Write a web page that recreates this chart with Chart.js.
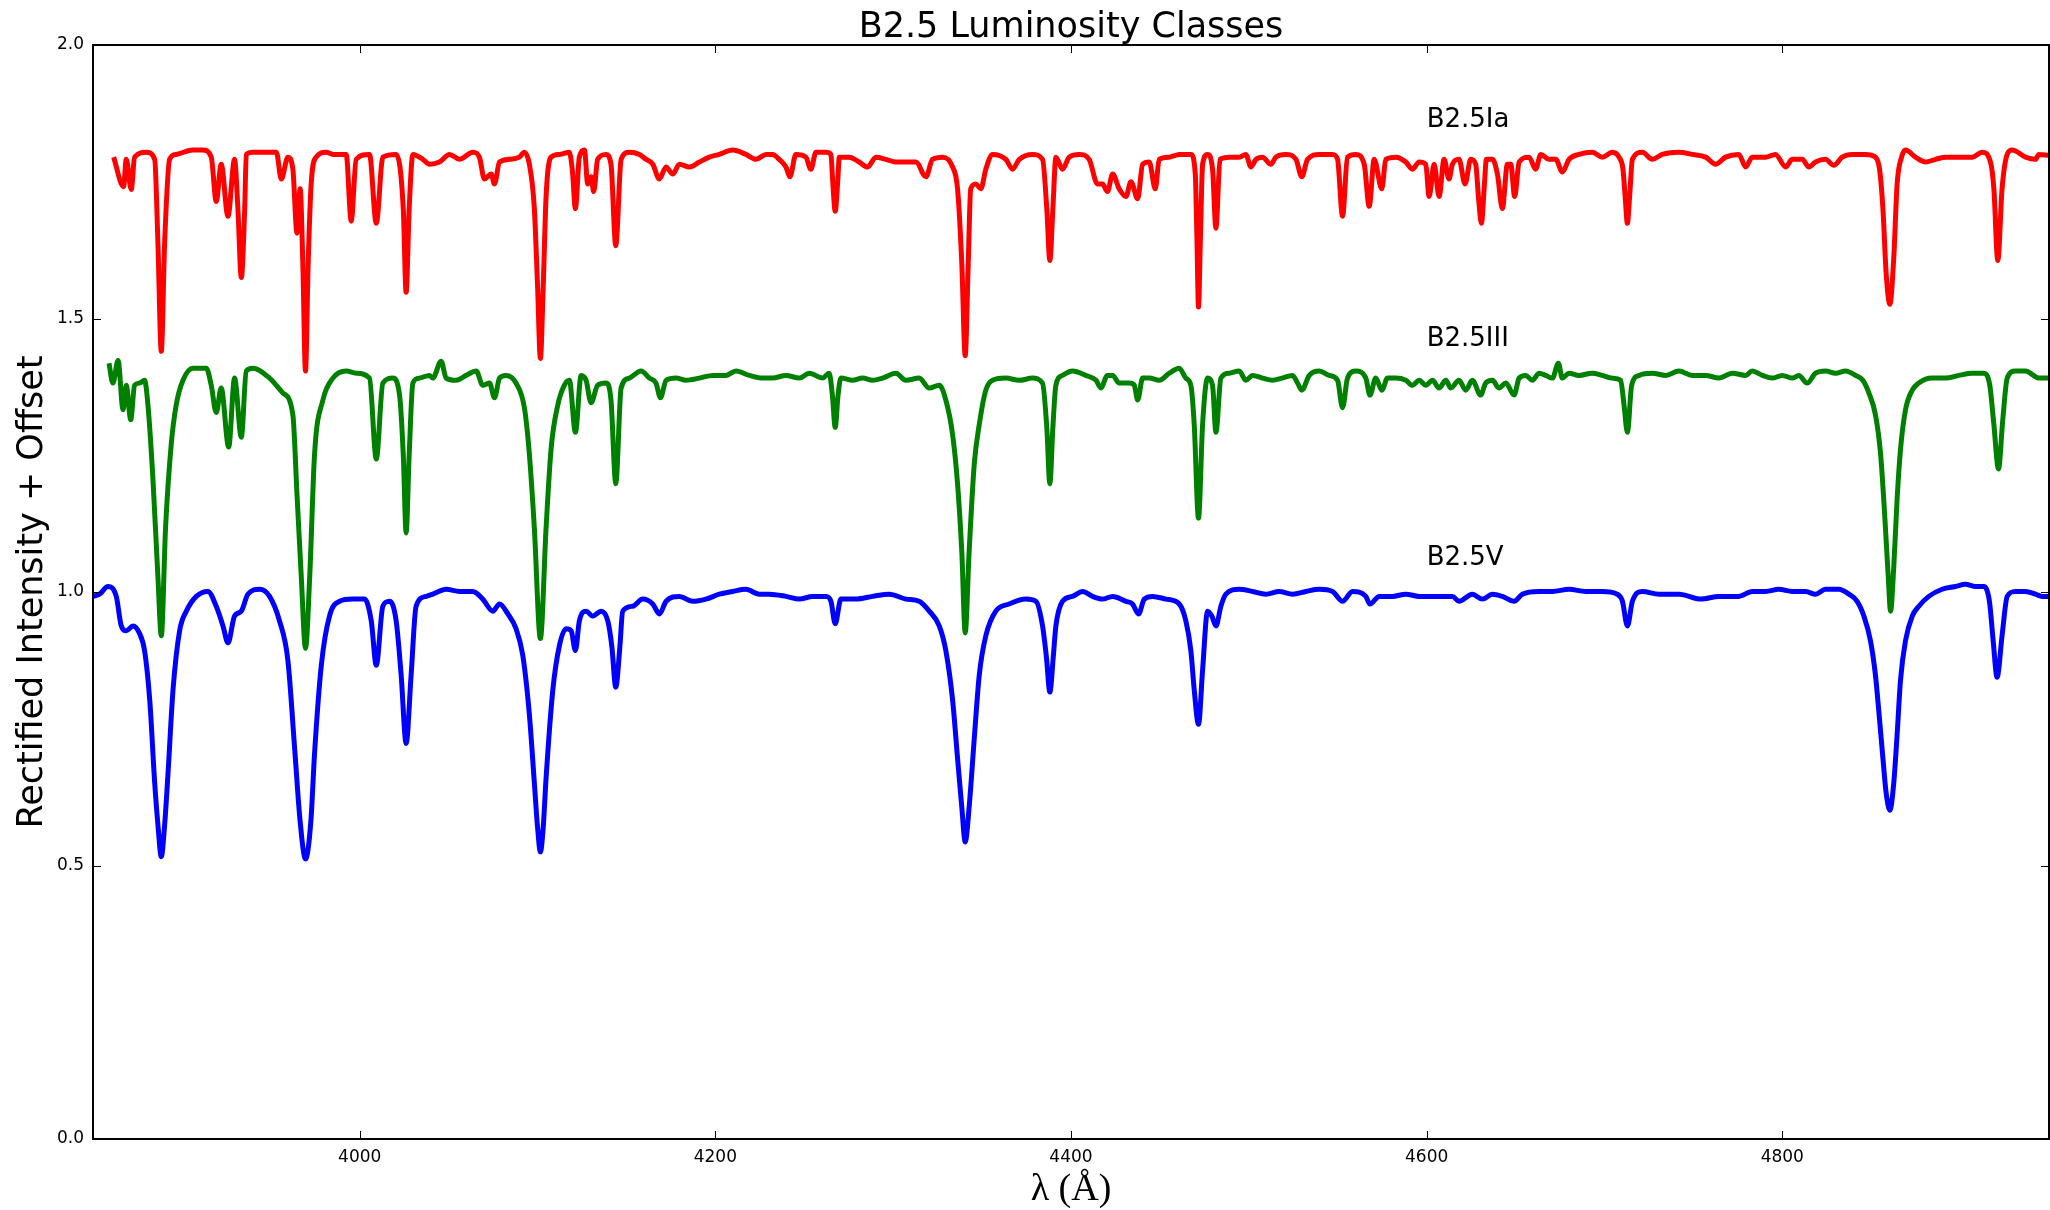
<!DOCTYPE html>
<html lang="en">
<head>
    <meta charset="UTF-8">
    <title>B2.5 Luminosity Classes</title>
    <script src="https://cdn.jsdelivr.net/npm/chart.js"></script>
    <style>
        html, body { margin: 0; padding: 0; background: #fff; }
        .chart-box { width: 2050px; height: 1210px; position: relative; }
    </style>
</head>
<body>
<div class="chart-box"><canvas id="spectra"></canvas></div>
<script>
    // wavelengths (Angstrom) and rectified flux + offset for each luminosity class
    const iaWave = [
        3861.6, 3867.2, 3868.7, 3871.5, 3873.4, 3880.0, 3884.7, 3886.5, 3888.4, 3890.3,
        3893.1, 3896.8, 3906.2, 3911.8, 3916.5, 3919.3, 3922.1, 3925.9, 3929.6, 3931.5,
        3933.4, 3935.3, 3936.2, 3939.9, 3953.1, 3955.9, 3959.6, 3962.4, 3964.7, 3966.5,
        3968.0, 3969.5, 3971.0, 3972.7, 3975.5, 3981.2, 3984.9, 3992.4, 3995.2, 3998.0,
        4005.5, 4009.3, 4013.0, 4020.5, 4024.5, 4026.1, 4027.8, 4029.9, 4035.5, 4039.2,
        4044.8, 4050.5, 4056.1, 4063.6, 4067.3, 4070.1, 4073.9, 4075.8, 4078.6, 4084.2,
        4089.8, 4092.6, 4095.4, 4098.2, 4100.0, 4101.6, 4103.2, 4104.8, 4107.6, 4112.3,
        4117.9, 4119.6, 4121.3, 4123.5, 4126.4, 4128.2, 4130.1, 4131.6, 4133.8, 4138.5,
        4141.3, 4144.0, 4147.0, 4151.6, 4157.3, 4161.0, 4164.8, 4168.5, 4172.3, 4176.0,
        4179.8, 4185.4, 4191.0, 4196.6, 4202.2, 4209.7, 4217.2, 4222.8, 4228.5,
        4232.2, 4235.9, 4239.7, 4241.9, 4245.3, 4250.9, 4253.7, 4256.6, 4262.2, 4265.0,
        4266.0, 4267.4, 4268.8, 4269.7, 4275.3, 4280.9, 4285.6, 4290.3, 4295.9, 4301.5,
        4307.1, 4312.8, 4318.4, 4322.1, 4327.8, 4333.4, 4336.2, 4338.6, 4340.5, 4342.2,
        4343.6, 4346.5, 4349.3, 4352.1, 4355.9, 4363.4, 4367.1, 4370.9, 4378.3, 4384.0,
        4386.4, 4388.1, 4389.8, 4391.5, 4395.2, 4399.0, 4404.6, 4410.2, 4414.9, 4417.7,
        4420.5,
        4423.4, 4427.1, 4430.9, 4433.7, 4437.5, 4440.3, 4444.0, 4447.4, 4449.6, 4455.3,
        4460.9, 4467.4, 4469.9, 4470.8, 4471.7, 4472.8, 4474.0, 4476.8, 4479.6, 4481.5,
        4483.8, 4489.0, 4494.6, 4498.3, 4501.2, 4504.0, 4507.7, 4512.4, 4515.2, 4520.8,
        4526.5, 4529.8, 4533.0, 4539.6, 4547.1, 4549.9, 4552.7, 4555.5, 4560.2, 4564.9,
        4567.7, 4570.5, 4574.8, 4577.0, 4582.7, 4588.3, 4592.0, 4595.8, 4599.5, 4601.4,
        4604.2, 4607.0, 4609.8, 4612.6,
        4614.5, 4618.2, 4621.6, 4624.8, 4627.6, 4629.2, 4630.8, 4632.4, 4633.6, 4637.0,
        4639.8, 4642.6, 4645.4, 4647.3, 4649.5, 4652.0, 4657.6, 4661.3, 4664.2, 4668.8,
        4672.6, 4676.3, 4680.1, 4685.7, 4693.2, 4698.8, 4704.4, 4708.2, 4710.4, 4711.7,
        4712.9, 4714.1, 4715.7, 4721.3, 4726.9, 4732.5, 4741.9, 4749.4, 4756.9, 4762.5,
        4768.1, 4775.6, 4779.4, 4783.1, 4790.6, 4796.2, 4801.9, 4805.6,
        4811.2, 4815.0, 4818.7, 4824.3, 4829.0, 4833.7, 4839.3, 4846.8, 4852.4, 4854.7,
        4856.6, 4858.4, 4860.5, 4862.7, 4864.6, 4867.1, 4869.3, 4874.9, 4880.5, 4886.2,
        4891.8, 4899.3, 4906.8, 4912.4, 4917.1, 4919.0, 4921.2, 4923.6, 4926.5, 4929.3,
        4936.8, 4942.4, 4944.3, 4950.0
    ];
    const iaFlux = [
        1.795, 1.741, 1.791, 1.736, 1.795, 1.804, 1.791, 1.640, 1.440, 1.640,
        1.791, 1.800, 1.808, 1.808, 1.795, 1.714, 1.782, 1.687, 1.791, 1.700,
        1.575, 1.700, 1.800, 1.804, 1.804, 1.755, 1.795, 1.773, 1.656, 1.737,
        1.600, 1.404, 1.600, 1.746, 1.795, 1.804, 1.800, 1.800, 1.678, 1.791,
        1.800, 1.674, 1.795, 1.800, 1.700, 1.548, 1.700, 1.800, 1.791, 1.782,
        1.786, 1.800, 1.791, 1.804, 1.795, 1.755, 1.764, 1.746, 1.786, 1.791,
        1.795, 1.804, 1.782, 1.701, 1.560, 1.427, 1.560, 1.723, 1.795, 1.800,
        1.804, 1.770, 1.701, 1.795, 1.808, 1.746, 1.759, 1.732, 1.791, 1.800,
        1.782, 1.633, 1.791, 1.804, 1.800, 1.791, 1.782, 1.755, 1.777, 1.764,
        1.782, 1.777, 1.786, 1.795, 1.800, 1.808, 1.800, 1.791, 1.800,
        1.800, 1.791, 1.777, 1.759, 1.800, 1.795, 1.773, 1.804, 1.804, 1.800,
        1.750, 1.696, 1.750, 1.795, 1.795, 1.786, 1.777, 1.795, 1.791, 1.786,
        1.786, 1.786, 1.759, 1.791, 1.795, 1.777, 1.737, 1.600, 1.432, 1.600,
        1.737, 1.746, 1.737, 1.773, 1.800, 1.791, 1.773, 1.791, 1.800, 1.791,
        1.700, 1.606, 1.700, 1.795, 1.773, 1.795, 1.800, 1.791, 1.746, 1.746,
        1.732,
        1.764, 1.737, 1.723, 1.750, 1.719, 1.782, 1.786, 1.737, 1.791, 1.795,
        1.800, 1.800, 1.764, 1.650, 1.521, 1.650, 1.782, 1.800, 1.773, 1.665,
        1.791, 1.795, 1.795, 1.800, 1.777, 1.791, 1.795, 1.782, 1.795, 1.800,
        1.791, 1.759, 1.791, 1.800, 1.800, 1.791, 1.687, 1.795, 1.800, 1.782,
        1.705, 1.791, 1.737, 1.791, 1.795, 1.786, 1.773, 1.786, 1.782, 1.723,
        1.782, 1.723, 1.791, 1.755,
        1.782, 1.791, 1.746, 1.791, 1.782, 1.720, 1.674, 1.740, 1.791, 1.791,
        1.764, 1.701, 1.782, 1.782, 1.723, 1.786, 1.795, 1.773, 1.800, 1.791,
        1.791, 1.768, 1.791, 1.800, 1.804, 1.795, 1.804, 1.795, 1.773, 1.720,
        1.674, 1.720, 1.791, 1.804, 1.791, 1.800, 1.804, 1.800, 1.795, 1.782,
        1.795, 1.800, 1.777, 1.795, 1.795, 1.800, 1.777, 1.791,
        1.791, 1.777, 1.786, 1.791, 1.780, 1.795, 1.800, 1.800, 1.795, 1.773,
        1.701, 1.584, 1.526, 1.611, 1.746, 1.795, 1.808, 1.795, 1.786, 1.791,
        1.795, 1.795, 1.795, 1.804, 1.786, 1.737, 1.606, 1.737, 1.800, 1.808,
        1.795, 1.791, 1.800, 1.798
    ];

    const iiiWave = [
        3859.0, 3861.2, 3864.1, 3866.9, 3868.7, 3871.2, 3873.4, 3876.2, 3879.0, 3880.9,
        3883.7, 3886.5, 3888.4, 3890.8, 3894.0, 3896.8, 3900.6, 3906.2, 3913.7, 3916.5,
        3919.3, 3922.1, 3926.3, 3929.6, 3933.4, 3936.2, 3939.9, 3949.3, 3956.8, 3962.4,
        3964.7, 3967.1, 3969.5, 3971.9, 3974.6, 3979.3, 3984.9, 3992.4, 3998.0, 4005.5,
        4009.3, 4013.0, 4018.6, 4022.4, 4024.5, 4026.1, 4027.8, 4029.9, 4033.6, 4039.2,
        4041.1, 4045.8, 4048.6, 4054.2, 4059.8, 4065.5, 4069.2, 4073.0, 4075.8, 4078.6,
        4082.3, 4087.9, 4092.6, 4095.4, 4098.2, 4101.6, 4104.8, 4107.6, 4111.4, 4115.1,
        4117.9, 4121.3, 4124.5, 4127.3, 4130.1, 4133.8, 4138.5, 4141.3, 4144.0, 4147.0,
        4151.6, 4158.2, 4162.9, 4166.6, 4169.1, 4172.3, 4177.9, 4183.5, 4191.0, 4198.5,
        4206.0, 4211.6, 4219.1, 4226.6,
        4232.2, 4239.7, 4247.2, 4252.8, 4260.3, 4264.0, 4265.8, 4267.4, 4269.0, 4270.6,
        4277.2, 4282.8, 4288.4, 4294.0, 4301.5, 4307.1, 4314.6, 4320.3, 4325.9, 4329.6,
        4333.4, 4336.2, 4338.6, 4340.5, 4342.7, 4345.6, 4348.4, 4352.1, 4355.9, 4363.4,
        4370.9, 4378.3, 4384.0, 4386.4, 4388.1, 4389.8, 4391.5, 4395.2, 4400.8, 4408.3,
        4414.1, 4416.8, 4420.5,
        4423.4, 4427.1, 4432.8, 4435.6, 4437.5, 4440.3, 4444.0, 4449.6, 4455.3, 4460.9,
        4464.6, 4467.4, 4469.3, 4471.7, 4474.0, 4476.8, 4479.6, 4481.5, 4484.3, 4489.0,
        4494.6, 4498.3, 4502.1, 4507.7, 4513.3, 4518.8, 4524.6, 4527.4, 4529.8, 4534.0,
        4539.6, 4545.2, 4549.9, 4552.7, 4555.5, 4560.2, 4565.8, 4568.1, 4571.4, 4574.8,
        4578.0, 4582.7, 4588.3, 4592.0, 4595.8, 4599.5, 4603.3, 4607.0, 4610.8, 4613.6,
        4618.2, 4622.0, 4625.7, 4630.4, 4633.2, 4637.0, 4640.7, 4644.5, 4649.2, 4652.0,
        4655.7, 4659.5, 4663.2, 4667.0, 4670.7, 4674.1, 4676.3, 4680.1, 4685.7, 4693.2,
        4698.8, 4704.4, 4709.1, 4711.0, 4712.9, 4715.3, 4719.4, 4726.9, 4734.4, 4741.9,
        4749.4, 4756.9, 4764.4, 4771.9, 4779.4, 4783.1, 4788.8, 4794.4, 4800.0, 4805.6,
        4809.3, 4814.0, 4818.7, 4824.3, 4830.0, 4835.6, 4841.2, 4845.3, 4848.7, 4852.4,
        4855.3, 4857.7, 4859.6, 4860.9, 4862.7, 4864.6, 4866.5, 4869.3, 4873.1, 4876.8,
        4884.3, 4891.8, 4899.3, 4906.8, 4913.3, 4916.7, 4919.0, 4921.6, 4924.0, 4926.5,
        4931.1, 4936.8, 4944.3, 4950.0
    ];
    const iiiFlux = [
        1.418, 1.382, 1.423, 1.333, 1.378, 1.315, 1.378, 1.382, 1.387, 1.342,
        1.207, 1.028, 0.920, 1.117, 1.270, 1.342, 1.387, 1.409, 1.409, 1.378,
        1.328, 1.373, 1.265, 1.391, 1.283, 1.404, 1.409, 1.391, 1.364, 1.324,
        1.180, 1.030, 0.897, 1.030, 1.252, 1.351, 1.391, 1.404, 1.400, 1.391,
        1.243, 1.382, 1.391, 1.360, 1.250, 1.108, 1.250, 1.382, 1.391, 1.396,
        1.391, 1.422, 1.391, 1.387, 1.396, 1.404, 1.378, 1.382, 1.355, 1.391,
        1.396, 1.382, 1.337, 1.252, 1.117, 0.915, 1.117, 1.261, 1.342, 1.378,
        1.387, 1.292, 1.396, 1.387, 1.346, 1.378, 1.382, 1.351, 1.198, 1.373,
        1.391, 1.404, 1.391, 1.382, 1.355, 1.387, 1.391, 1.387, 1.391, 1.396,
        1.396, 1.404, 1.396, 1.391,
        1.391, 1.396, 1.391, 1.400, 1.391, 1.400, 1.360, 1.301, 1.360, 1.391,
        1.387, 1.391, 1.387, 1.391, 1.400, 1.387, 1.391, 1.373, 1.378, 1.351,
        1.288, 1.198, 1.073, 0.925, 1.073, 1.234, 1.306, 1.369, 1.387, 1.391,
        1.387, 1.391, 1.382, 1.300, 1.198, 1.300, 1.378, 1.396, 1.404, 1.396,
        1.387, 1.373, 1.396,
        1.396, 1.382, 1.382, 1.378, 1.351, 1.391, 1.391, 1.387, 1.400, 1.409,
        1.391, 1.378, 1.306, 1.135, 1.306, 1.391, 1.378, 1.292, 1.391, 1.400,
        1.404, 1.387, 1.396, 1.391, 1.387, 1.391, 1.396, 1.382, 1.369, 1.396,
        1.404, 1.396, 1.387, 1.337, 1.391, 1.404, 1.391, 1.360, 1.391, 1.369,
        1.391, 1.391, 1.387, 1.378, 1.387, 1.378, 1.387, 1.373, 1.387, 1.373,
        1.387, 1.369, 1.387, 1.360, 1.382, 1.387, 1.373, 1.382, 1.360, 1.391,
        1.396, 1.387, 1.400, 1.396, 1.391, 1.418, 1.391, 1.400, 1.396, 1.400,
        1.396, 1.391, 1.387, 1.342, 1.292, 1.378, 1.396, 1.400, 1.396, 1.404,
        1.396, 1.396, 1.391, 1.400, 1.396, 1.404, 1.396, 1.391, 1.396, 1.391,
        1.396, 1.382, 1.400, 1.404, 1.400, 1.404, 1.396, 1.387, 1.364, 1.324,
        1.252, 1.135, 1.028, 0.965, 1.046, 1.171, 1.261, 1.333, 1.369, 1.382,
        1.391, 1.391, 1.396, 1.400, 1.400, 1.378, 1.306, 1.225, 1.315, 1.391,
        1.404, 1.404, 1.391, 1.391
    ];

    const vWave = [
        3850.0, 3853.7, 3858.4, 3863.1, 3865.9, 3868.7, 3872.5, 3876.2, 3879.0, 3881.9,
        3884.7, 3886.5, 3888.4, 3890.3, 3892.2, 3895.0, 3898.7, 3902.5, 3908.1, 3914.6,
        3919.3, 3923.1, 3925.9, 3929.6, 3933.4, 3937.1, 3943.7, 3949.3, 3954.9, 3959.6,
        3963.4, 3966.5, 3969.5, 3972.5, 3974.6, 3978.4, 3983.0, 3988.7, 3996.1, 4002.7,
        4006.5, 4009.3, 4013.0, 4016.8, 4020.5, 4023.3, 4026.1, 4028.9, 4031.7, 4037.4,
        4041.1, 4048.6, 4056.1, 4063.6, 4069.2, 4074.8, 4078.6, 4083.3, 4087.9, 4091.7,
        4095.4, 4098.2, 4100.0, 4101.6, 4103.2, 4104.8, 4108.6, 4112.3, 4116.1, 4118.9,
        4121.3, 4123.5, 4127.3, 4131.0, 4135.7, 4139.5, 4141.8, 4144.0, 4146.3, 4147.9,
        4153.5, 4159.1, 4164.8, 4168.5, 4172.3, 4179.8, 4187.2, 4194.7, 4202.2, 4209.7,
        4217.2, 4224.7, 4230.3,
        4239.7, 4247.2, 4254.7, 4262.2, 4265.0, 4267.4, 4270.6, 4279.0, 4288.4, 4297.8,
        4307.1, 4314.6, 4320.3, 4325.9, 4329.6, 4333.4, 4336.2, 4338.6, 4340.5, 4342.7,
        4345.6, 4348.4, 4352.1, 4357.7, 4365.2, 4374.6, 4380.3, 4384.0, 4386.2, 4388.1,
        4390.0, 4391.5, 4395.2, 4400.8, 4406.5, 4412.1, 4417.7,
        4423.4, 4430.9, 4434.6, 4438.0, 4441.2, 4445.9, 4453.4, 4460.9, 4464.6, 4467.4,
        4469.3, 4471.7, 4474.0, 4476.8, 4479.2, 4481.5, 4484.3, 4487.1, 4494.6, 4502.1,
        4509.6, 4517.1, 4524.6, 4532.1, 4539.6, 4547.1, 4552.7, 4558.3, 4565.8, 4568.1,
        4573.3, 4580.8, 4588.3, 4595.8, 4603.3, 4610.8,
        4614.5, 4618.2, 4625.7, 4631.4, 4636.9, 4642.6, 4649.2, 4653.8, 4663.2, 4670.7,
        4680.1, 4689.4, 4698.8, 4707.2, 4710.1, 4712.9, 4715.7, 4721.3, 4730.7, 4742.0,
        4754.1, 4764.4, 4775.6, 4783.1, 4790.6, 4798.1, 4805.6,
        4813.1, 4818.7, 4824.3, 4831.8, 4837.5, 4842.1, 4845.9, 4849.6, 4852.4, 4854.7,
        4856.6, 4858.4, 4860.5, 4862.7, 4864.6, 4866.5, 4869.3, 4873.1, 4876.8, 4882.4,
        4889.9, 4897.4, 4903.0, 4908.7, 4913.3, 4916.5, 4918.6, 4920.8, 4923.6, 4926.5,
        4931.1, 4936.8, 4942.4, 4946.1, 4950.0
    ];
    const vFlux = [
        0.992, 0.996, 1.010, 0.992, 0.938, 0.929, 0.938, 0.924, 0.893, 0.803,
        0.651, 0.575, 0.516, 0.575, 0.669, 0.821, 0.929, 0.965, 0.992, 1.001,
        0.974, 0.938, 0.907, 0.956, 0.965, 0.996, 1.005, 0.992, 0.947, 0.875,
        0.714, 0.580, 0.512, 0.580, 0.705, 0.866, 0.956, 0.983, 0.987, 0.987,
        0.947, 0.866, 0.974, 0.983, 0.947, 0.848, 0.723, 0.848, 0.974, 0.992,
        0.996, 1.005, 1.001, 1.001, 0.987, 0.965, 0.978, 0.960, 0.933, 0.884,
        0.776, 0.651, 0.570, 0.525, 0.570, 0.660, 0.821, 0.902, 0.933, 0.929,
        0.893, 0.947, 0.965, 0.956, 0.965, 0.947, 0.900, 0.826, 0.900, 0.965,
        0.974, 0.987, 0.978, 0.960, 0.983, 0.992, 0.983, 0.987, 0.996, 1.001,
        1.005, 0.996, 0.996,
        0.992, 0.987, 0.992, 0.992, 0.983, 0.942, 0.987, 0.987, 0.992, 0.996,
        0.987, 0.983, 0.965, 0.938, 0.893, 0.803, 0.696, 0.606, 0.543, 0.606,
        0.732, 0.848, 0.920, 0.965, 0.978, 0.987, 0.983, 0.938, 0.880, 0.817,
        0.880, 0.938, 0.983, 0.992, 1.001, 0.992, 0.987,
        0.992, 0.983, 0.978, 0.960, 0.987, 0.992, 0.987, 0.978, 0.947, 0.893,
        0.821, 0.758, 0.857, 0.965, 0.956, 0.938, 0.974, 0.996, 1.005, 1.001,
        0.996, 1.001, 0.996, 1.001, 1.005, 1.001, 0.983, 1.001, 0.992, 0.978,
        0.992, 0.992, 0.996, 0.992, 0.992, 0.992,
        0.992, 0.983, 0.996, 0.987, 0.996, 0.992, 0.983, 0.996, 1.001, 1.001,
        1.005, 1.001, 1.001, 0.996, 0.983, 0.938, 0.983, 1.001, 0.996, 0.996,
        0.987, 0.992, 0.992, 1.001, 1.001, 1.005, 1.001,
        1.001, 0.996, 1.005, 1.005, 0.996, 0.983, 0.956, 0.911, 0.848, 0.767,
        0.696, 0.633, 0.601, 0.651, 0.740, 0.839, 0.911, 0.956, 0.974, 0.992,
        1.005, 1.010, 1.014, 1.010, 1.010, 0.983, 0.911, 0.844, 0.920, 0.992,
        1.001, 1.001, 0.996, 0.992, 0.992
    ];

    const seriesNames = ['B2.5Ia', 'B2.5III', 'B2.5V'];
    const seriesColors = ['#ff0000', '#008000', '#0000ff'];
    const labelWave = 4600;
    const labelLevels = [1.85, 1.45, 1.05];

    const xTicks = [4000, 4200, 4400, 4600, 4800];
    const yTicks = [0.0, 0.5, 1.0, 1.5, 2.0];

    const FONT = 'DejaVu Sans';

    function toPoints(wave, flux) {
        return wave.map((w, i) => ({ x: w, y: flux[i] }));
    }

    // box around the plot, inward ticks on all four sides, and the class labels
    const frameAndLabels = {
        id: 'frameAndLabels',
        afterDatasetsDraw(chart) {
            const { ctx, chartArea: a, scales: { x, y } } = chart;
            const len = 8;
            ctx.save();
            ctx.strokeStyle = '#000';
            ctx.lineWidth = 1;
            ctx.beginPath();
            x.ticks.forEach(t => {
                const px = Math.round(x.getPixelForValue(t.value)) + 0.5;
                ctx.moveTo(px, a.bottom); ctx.lineTo(px, a.bottom - len);
                ctx.moveTo(px, a.top); ctx.lineTo(px, a.top + len);
            });
            y.ticks.forEach(t => {
                const py = Math.round(y.getPixelForValue(t.value)) + 0.5;
                ctx.moveTo(a.left, py); ctx.lineTo(a.left + len, py);
                ctx.moveTo(a.right, py); ctx.lineTo(a.right - len, py);
            });
            ctx.stroke();
            ctx.lineWidth = 2;
            ctx.strokeRect(a.left, a.top, a.right - a.left, a.bottom - a.top);

            ctx.fillStyle = '#000';
            ctx.font = '26px "' + FONT + '"';
            ctx.textAlign = 'left';
            ctx.textBaseline = 'alphabetic';
            seriesNames.forEach((name, i) => {
                ctx.fillText(name, x.getPixelForValue(labelWave), y.getPixelForValue(labelLevels[i]));
            });
            ctx.restore();
        }
    };

    const spectra = [[iaWave, iaFlux], [iiiWave, iiiFlux], [vWave, vFlux]];

    new Chart(document.getElementById('spectra'), {
        type: 'line',
        data: {
            datasets: spectra.map((s, i) => ({
                label: seriesNames[i],
                data: toPoints(s[0], s[1]),
                borderColor: seriesColors[i],
                backgroundColor: seriesColors[i],
                borderWidth: 5,
                pointRadius: 0,
                cubicInterpolationMode: 'monotone',
                fill: false
            }))
        },
        options: {
            responsive: true,
            maintainAspectRatio: false,
            animation: false,
            layout: { padding: 0 },
            plugins: {
                legend: { display: false },
                tooltip: { enabled: false },
                title: {
                    display: true,
                    fullSize: false,
                    text: 'B2.5 Luminosity Classes',
                    color: '#000',
                    font: { family: FONT, size: 35, weight: 'normal', lineHeight: 1.0 },
                    padding: { top: 10, bottom: 0 }
                }
            },
            scales: {
                x: {
                    type: 'linear',
                    min: 3850,
                    max: 4950,
                    afterBuildTicks: s => { s.ticks = xTicks.map(v => ({ value: v })); },
                    afterFit: s => { s.height = 71; s.paddingLeft = 0; s.paddingRight = 1; },
                    grid: { display: false, drawTicks: false },
                    border: { display: false },
                    ticks: {
                        color: '#000',
                        font: { family: FONT, size: 17 },
                        padding: 8,
                        maxRotation: 0,
                        autoSkip: false,
                        callback: v => String(v)
                    },
                    title: {
                        display: true,
                        text: 'λ (Å)',
                        color: '#000',
                        font: { family: 'Liberation Serif', size: 38, lineHeight: 1 },
                        padding: { top: 0, bottom: 1 }
                    }
                },
                y: {
                    type: 'linear',
                    min: 0,
                    max: 2,
                    afterBuildTicks: s => { s.ticks = yTicks.map(v => ({ value: v })); },
                    afterFit: s => { s.width = 93; },
                    grid: { display: false, drawTicks: false },
                    border: { display: false },
                    ticks: {
                        color: '#000',
                        font: { family: FONT, size: 17 },
                        padding: 9,
                        callback: v => v.toFixed(1)
                    },
                    title: {
                        display: true,
                        text: 'Rectified Intensity + Offset',
                        color: '#000',
                        font: { family: FONT, size: 35, lineHeight: 1.2 },
                        padding: { top: 12, bottom: 0 }
                    }
                }
            }
        },
        plugins: [frameAndLabels]
    });
</script>
</body>
</html>
